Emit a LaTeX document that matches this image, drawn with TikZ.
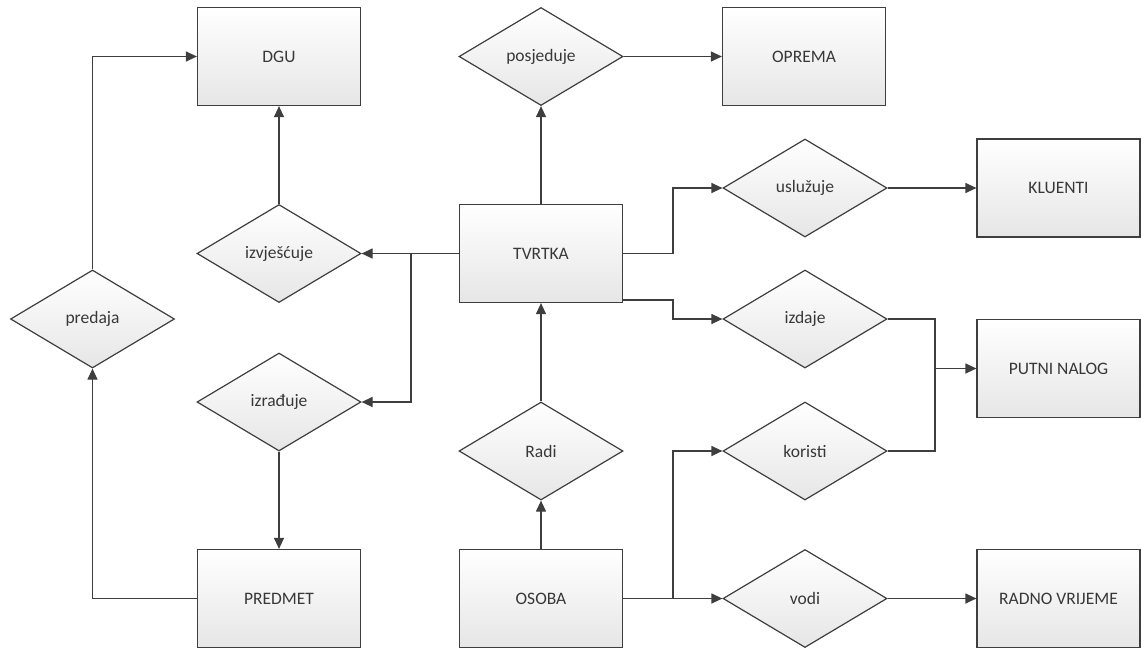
\documentclass[tikz,border=0pt]{standalone}
\usepackage{fontspec}
\setmainfont{Carlito}
\usetikzlibrary{shapes.geometric,arrows.meta}
\definecolor{edge}{HTML}{3E3E3E}
\definecolor{ink}{HTML}{383838}
\definecolor{shadebot}{HTML}{E6E6E6}
\begin{document}
\begin{tikzpicture}[x=1pt,y=-1pt,
  entity/.style={rectangle,draw=edge,line width=1.2pt,top color=white,bottom color=shadebot,
    minimum width=163pt,minimum height=98pt,inner sep=0pt,text=ink,
    font=\fontsize{17.5}{20}\selectfont},
  relation/.style={diamond,draw=edge,line width=1.2pt,top color=white,bottom color=shadebot,
    minimum width=164pt,minimum height=98pt,inner sep=0pt,shape aspect=1.66,text=ink,
    font=\fontsize{17.5}{20}\selectfont},
  link/.style={draw=edge,line width=1.2pt},
  arr/.style={link,-{Triangle[length=11pt,width=10pt]}}]
\useasboundingbox (0,0) rectangle (1141,649);

% entities
\node[entity] (dgu)     at (279,56.5)   {DGU};
\node[entity] (oprema)  at (804,56.5)   {OPREMA};
\node[entity] (tvrtka)  at (541,253.5)  {TVRTKA};
\node[entity] (kluenti) at (1058.5,188) {KLUENTI};
\node[entity] (putni)   at (1058.5,368.5) {PUTNI NALOG};
\node[entity] (predmet) at (279,598.5)  {PREDMET};
\node[entity] (osoba)   at (541,598.5)  {OSOBA};
\node[entity] (radno)   at (1058.5,598.5) {RADNO VRIJEME};

% relationships
\node[relation] (posjeduje)  at (541,56.5)  {posjeduje};
\node[relation] (izvjescuje) at (279,253.5) {izvješćuje};
\node[relation] (predaja)    at (92.5,319)  {predaja};
\node[relation] (izraduje)   at (279,402)   {izrađuje};
\node[relation] (usluzuje)   at (805,188)   {uslužuje};
\node[relation] (izdaje)     at (805,319)   {izdaje};
\node[relation] (koristi)    at (805,451)   {koristi};
\node[relation] (radi)       at (541,451)   {Radi};
\node[relation] (vodi)       at (805,598.5) {vodi};

% junction points
\coordinate (jl) at (411,253.5);
\coordinate (jr) at (673,253.5);
\coordinate (jb) at (673,300);
\coordinate (jp) at (935,368.5);
\coordinate (jo) at (673,598.5);

% connectors
\draw[arr] (predaja.north) |- (dgu.west);
\draw[arr] (predmet.west) -| (predaja.south);
\draw[arr] (izvjescuje.north) -- (dgu.south);
\draw[arr] (tvrtka.west) -- (izvjescuje.east);
\draw[arr] (jl) |- (izraduje.east);
\draw[arr] (izraduje.south) -- (predmet.north);
\draw[arr] (tvrtka.north) -- (posjeduje.south);
\draw[arr] (posjeduje.east) -- (oprema.west);
\draw[arr] (tvrtka.east) -- (jr) |- (usluzuje.west);
\draw[arr] (usluzuje.east) -- (kluenti.west);
\draw[arr] (tvrtka.east |- jb) -- (jb) |- (izdaje.west);
\draw[link] (izdaje.east) -| (jp);
\draw[link] (koristi.east) -| (jp);
\draw[arr] (jp) -- (putni.west);
\draw[arr] (osoba.north) -- (radi.south);
\draw[arr] (radi.north) -- (tvrtka.south);
\draw[arr] (osoba.east) -- (vodi.west);
\draw[arr] (jo) |- (koristi.west);
\draw[arr] (vodi.east) -- (radno.west);
\end{tikzpicture}
\end{document}
